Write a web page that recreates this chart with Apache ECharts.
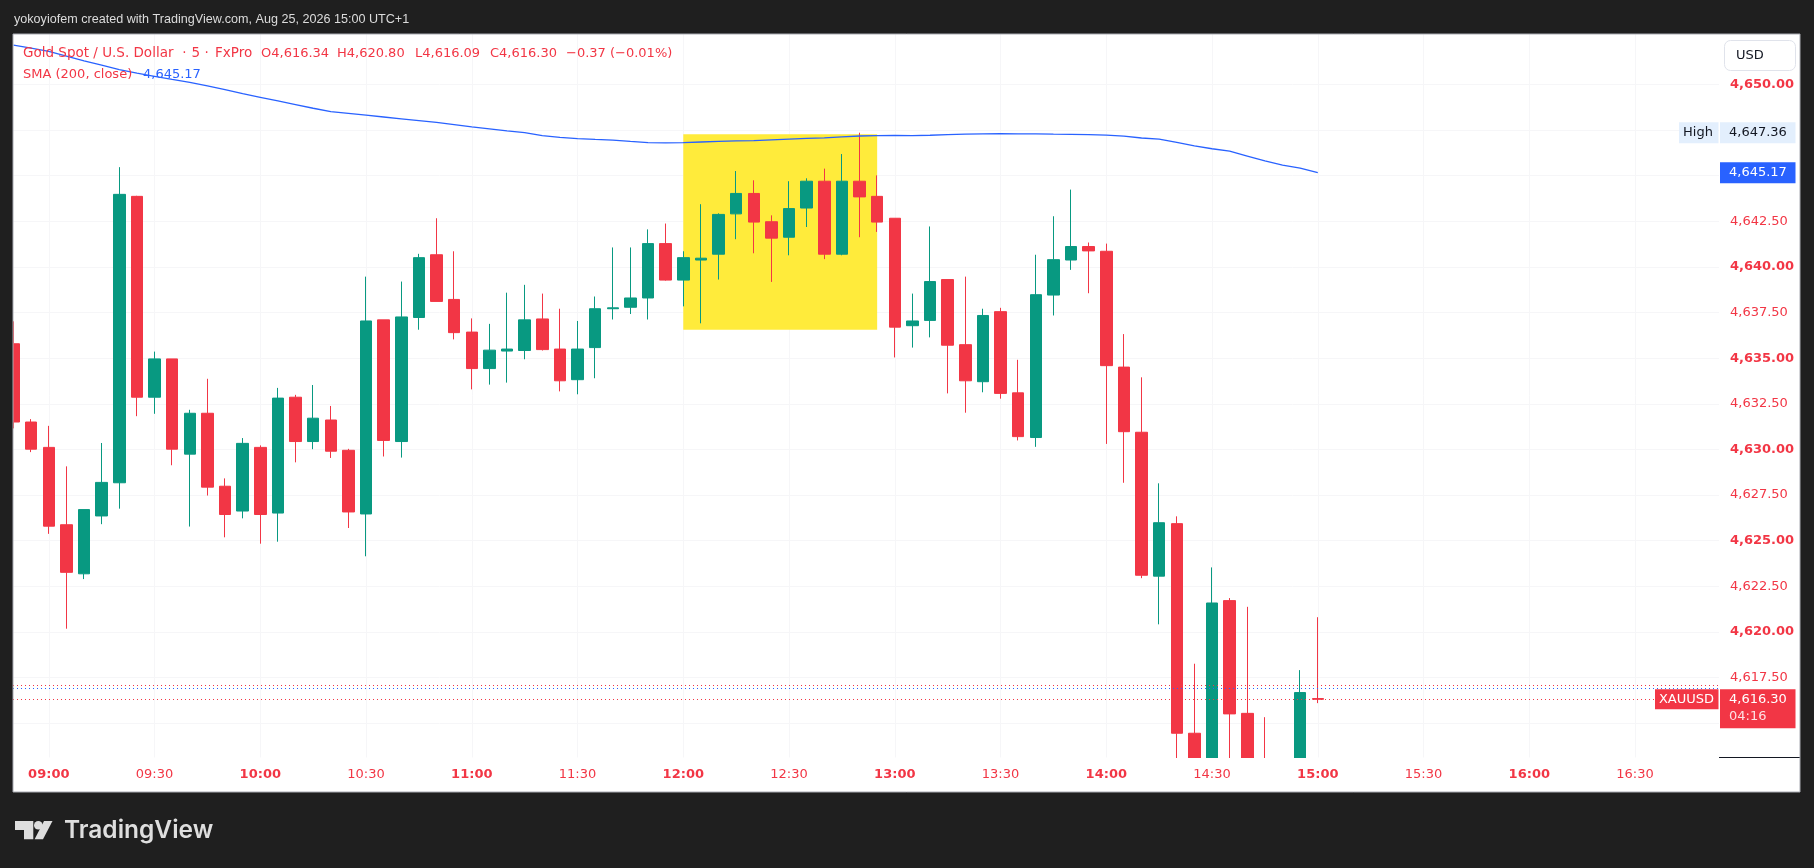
<!DOCTYPE html>
<html><head><meta charset="utf-8">
<script src="https://cdn.jsdelivr.net/npm/echarts@6/dist/echarts.min.js"></script>
<style>html,body{margin:0;padding:0;background:#1f1f1f}#c{width:1814px;height:868px}</style>
</head><body><div id="c"></div>
<script>
const times = ['08:50','08:55','09:00','09:05','09:10','09:15','09:20','09:25','09:30','09:35',
'09:40','09:45','09:50','09:55','10:00','10:05','10:10','10:15','10:20','10:25',
'10:30','10:35','10:40','10:45','10:50','10:55','11:00','11:05','11:10','11:15',
'11:20','11:25','11:30','11:35','11:40','11:45','11:50','11:55','12:00','12:05',
'12:10','12:15','12:20','12:25','12:30','12:35','12:40','12:45','12:50','12:55',
'13:00','13:05','13:10','13:15','13:20','13:25','13:30','13:35','13:40','13:45',
'13:50','13:55','14:00','14:05','14:10','14:15','14:20','14:25','14:30','14:35',
'14:40','14:45','14:50','14:55','15:00'];
const opens = [4635.79,4631.50,4630.11,4625.87,4623.18,4626.35,4628.17,4643.87,4632.86,4634.96,
4629.74,4631.98,4627.98,4626.62,4630.11,4626.51,4632.86,4630.43,4631.61,4629.95,
4626.46,4637.10,4630.43,4637.23,4640.67,4638.22,4636.43,4634.43,4635.39,4635.42,
4637.15,4635.50,4633.82,4635.58,4637.71,4637.79,4638.30,4641.28,4639.28,4640.38,
4640.70,4642.91,4644.03,4642.48,4641.63,4643.23,4644.70,4640.70,4644.70,4643.87,
4642.67,4636.78,4637.07,4639.31,4635.74,4633.71,4637.55,4633.10,4630.65,4638.46,
4640.38,4641.12,4640.86,4634.51,4630.94,4623.05,4625.93,4614.44,4612.40,4621.71,
4615.53,4612.60,4612.20,4612.50,4616.34];
const highs = [4637.02,4631.66,4631.29,4629.07,4626.70,4630.35,4645.47,4643.90,4635.36,4634.96,
4632.17,4633.87,4628.41,4630.62,4630.22,4633.37,4632.99,4633.53,4632.38,4630.03,
4639.47,4637.10,4639.20,4640.72,4642.67,4640.86,4637.18,4636.88,4638.59,4639.02,
4638.54,4637.71,4637.04,4638.38,4641.07,4641.07,4642.06,4642.38,4640.86,4643.44,
4642.94,4645.26,4644.75,4642.83,4644.70,4644.86,4645.39,4646.19,4647.36,4645.02,
4642.67,4638.54,4642.22,4639.31,4639.47,4637.71,4637.76,4634.91,4640.67,4642.78,
4644.24,4641.34,4641.28,4636.32,4633.95,4628.14,4626.33,4618.25,4623.53,4621.85,
4621.37,4615.32,4612.90,4617.90,4620.80];
const lows = [4631.15,4629.85,4625.37,4620.17,4622.89,4625.90,4626.75,4631.82,4631.95,4629.13,
4625.77,4627.47,4625.18,4626.22,4624.83,4624.94,4629.29,4630.01,4629.53,4625.69,
4624.14,4629.61,4629.55,4636.56,4638.11,4636.03,4633.29,4633.55,4633.66,4634.94,
4635.42,4633.18,4633.02,4633.90,4637.12,4637.42,4637.12,4639.25,4637.84,4636.91,
4639.31,4641.52,4640.75,4639.18,4640.64,4642.19,4640.43,4640.64,4641.63,4641.92,
4635.04,4635.58,4636.14,4633.07,4632.01,4633.13,4632.78,4630.49,4630.14,4637.34,
4639.84,4638.56,4630.30,4628.17,4622.94,4620.41,4612.30,4611.60,4611.90,4612.50,
4611.80,4611.50,4610.90,4612.10,4616.09];
const closes = [4631.50,4630.01,4625.79,4623.26,4626.70,4628.19,4643.98,4632.86,4634.96,4630.01,
4631.98,4627.93,4626.43,4630.33,4626.43,4632.81,4630.43,4631.71,4629.90,4626.57,
4637.04,4630.49,4637.26,4640.51,4638.11,4636.40,4634.43,4635.44,4635.50,4637.10,
4635.47,4633.76,4635.50,4637.71,4637.76,4638.30,4641.28,4639.28,4640.51,4640.48,
4642.88,4644.03,4642.46,4641.58,4643.20,4644.70,4640.70,4644.70,4643.84,4642.46,
4636.70,4637.04,4639.20,4635.71,4633.76,4637.34,4633.07,4630.70,4638.48,4640.40,
4641.12,4640.88,4634.59,4630.97,4623.10,4625.98,4614.44,4612.40,4621.58,4615.50,
4612.60,4612.20,4612.50,4616.67,4616.30];
const sma200 = [4652.16,4652.00,4651.82,4651.56,4651.30,4651.06,4650.82,4650.62,4650.45,4650.28,
4650.12,4649.93,4649.72,4649.50,4649.30,4649.10,4648.90,4648.70,4648.51,4648.42,
4648.32,4648.22,4648.12,4648.02,4647.92,4647.80,4647.68,4647.57,4647.46,4647.36,
4647.20,4647.10,4647.04,4646.99,4646.95,4646.88,4646.82,4646.80,4646.82,4646.85,
4646.88,4646.91,4646.93,4646.97,4647.01,4647.05,4647.08,4647.13,4647.18,4647.20,
4647.21,4647.20,4647.22,4647.25,4647.28,4647.30,4647.31,4647.30,4647.30,4647.28,
4647.27,4647.25,4647.23,4647.17,4647.07,4647.01,4646.83,4646.64,4646.48,4646.35,
4646.08,4645.81,4645.58,4645.42,4645.17];
const timeTicks = ['09:00','09:30','10:00','10:30','11:00','11:30','12:00','12:30','13:00','13:30','14:00','14:30','15:00','15:30','16:00','16:30'];
const priceTicks = [4615,4617.5,4620,4622.5,4625,4627.5,4630,4632.5,4635,4637.5,4640,4642.5,4645,4647.5,4650];
const highlightStart = '12:00', highlightEnd = '12:55';
const highlightTop = 4647.28, highlightBottom = 4636.56;
const askLines = [4617.06, 4616.90];
const countdown = '04:16';

const RED = '#f23645', GREEN = '#089981', BLUE = '#2962ff', DARK = '#1f1f1f', INK = '#131722';
const FONT = '"DejaVu Sans", Verdana, sans-serif';
const toMin = t => { const p = t.split(':').map(Number); return p[0] * 60 + p[1]; };
const t0 = toMin(times[0]);
const slot = t => (toMin(t) - t0) / 5;
const fmt = v => v.toLocaleString('en-US', {minimumFractionDigits: 2, maximumFractionDigits: 2});
const candles = times.map((t, i) => [slot(t), opens[i], closes[i], lows[i], highs[i]]);
const smaData = times.map((t, i) => [slot(t), sma200[i]]);

const GL = 13, GR = 1719, GT = 34, GB = 757.5;
const pxPerSlot = 17.625;
const xMin = -0.03, xMax = xMin + (GR - GL) / pxPerSlot;
const yMin = 4613.11, yMax = 4652.77;

const chart = echarts.init(document.getElementById('c'), null, {renderer: 'canvas', width: 1814, height: 868});
const labelRich = {
  b: {fontFamily: FONT, fontSize: 13, fontWeight: 'bold', color: RED},
  n: {fontFamily: FONT, fontSize: 13, fontWeight: 'normal', color: RED}
};
chart.setOption({
  backgroundColor: DARK,
  animation: false,
  grid: {left: GL, right: 1814 - GR, top: GT, bottom: 868 - GB},
  xAxis: {
    type: 'value', min: xMin, max: xMax, z: 6,
    axisLine: {show: false}, axisTick: {show: false}, splitLine: {show: false},
    axisLabel: {
      customValues: timeTicks.map(slot), margin: 11,
      formatter: v => { const t = timeTicks.find(s => Math.abs(slot(s) - v) < 1e-6) || ''; return t.endsWith(':00') ? '{b|' + t + '}' : '{n|' + t + '}'; },
      rich: labelRich
    }
  },
  yAxis: {
    type: 'value', position: 'right', min: yMin, max: yMax,
    axisLine: {show: false}, axisTick: {show: false}, splitLine: {show: false},
    axisLabel: {
      customValues: priceTicks, margin: 11, align: 'left',
      formatter: v => (Math.abs(v - Math.round(v)) < 1e-6 ? '{b|' : '{n|') + fmt(v) + '}',
      rich: labelRich
    }
  },
  series: [
    {
      type: 'line', data: [], silent: true, z: 0,
      markLine: {
        z: 0, silent: true, symbol: 'none', label: {show: false},
        lineStyle: {color: '#f6f6f8', width: 1, type: 'solid'},
        data: timeTicks.map(t => ({xAxis: slot(t)})).concat(priceTicks.map(p => ({yAxis: p})))
      }
    },
    {
      type: 'line', data: [], silent: true, z: 1,
      markArea: {
        z: 1, silent: true, itemStyle: {color: '#ffeb3b'},
        data: [[{coord: [slot(highlightStart), highlightTop]}, {coord: [slot(highlightEnd), highlightBottom]}]]
      }
    },
    {
      type: 'candlestick', z: 2, barWidth: 12, clip: true,
      dimensions: ['x', 'open', 'close', 'low', 'high'],
      encode: {x: 'x', y: ['open', 'close', 'low', 'high']},
      data: candles,
      itemStyle: {color: GREEN, color0: RED, borderColor: GREEN, borderColor0: RED, borderColorDoji: RED, borderWidth: 1},
      markLine: {
        silent: true, symbol: 'none', label: {show: false},
        data: [
          {yAxis: askLines[0], lineStyle: {color: RED, type: [1, 3], width: 1}},
          {yAxis: askLines[1], lineStyle: {color: BLUE, type: [1, 3], width: 1}},
          {yAxis: closes[closes.length - 1], lineStyle: {color: RED, type: [1, 3], width: 1}}
        ]
      }
    },
    {
      type: 'line', z: 3, data: smaData, showSymbol: false, symbol: 'none', silent: true,
      lineStyle: {color: BLUE, width: 1.3}
    }
  ]
});

const py = p => chart.convertToPixel({xAxisIndex: 0, yAxisIndex: 0}, [0, p])[1];
const n = closes.length - 1;
const chg = closes[n] - closes[n - 1];
const sign = chg < 0 ? '\u2212' : '+';
const pct = Math.abs(chg / closes[n - 1] * 100).toFixed(2);
const hiVal = Math.max(...highs);
const txt = (x, y, text, fill, font, align, extra) => Object.assign({type: 'text', z: 20, style: {x, y, text, fill, font, textAlign: align || 'left', textVerticalAlign: 'middle'}}, extra || {});
const box = (x, y, w, h, fill, stroke, r) => ({type: 'rect', z: 19, shape: {x, y, width: w, height: h, r: r || 0}, style: {fill, stroke: stroke || null, lineWidth: 1}});
const yHigh = py(hiVal), ySma = py(sma200[n]), yLast = py(closes[n]);

chart.setOption({
  graphic: [
    {type: 'rect', z: -1, shape: {x: GL, y: GT, width: 1800 - GL, height: 792 - GT}, style: {fill: '#ffffff'}},
    {type: 'rect', z: 5, shape: {x: GL + 0.5, y: GB + 0.5, width: GR - GL - 0.5, height: 792 - GB - 1}, style: {fill: '#ffffff'}},
    {type: 'rect', z: 5, shape: {x: 0, y: GT, width: GL, height: 792 - GT}, style: {fill: DARK}},
    {type: 'rect', z: 21, shape: {x: GL, y: GT, width: 1800 - GL, height: 792 - GT}, style: {fill: null, stroke: '#a9abb2', lineWidth: 1}},
    txt(14, 20, 'yokoyiofem created with TradingView.com, Aug 25, 2026 15:00 UTC+1', '#dcdcdc', '12.6px "Liberation Sans", Arial, sans-serif'),
    txt(23, 53.5, 'Gold Spot / U.S. Dollar', RED, '13.5px ' + FONT),
    txt(184.5, 53.5, '\u00b7', RED, '13.5px ' + FONT, 'center'),
    txt(195.7, 53.5, '5', RED, '13.5px ' + FONT, 'center'),
    txt(206.7, 53.5, '\u00b7', RED, '13.5px ' + FONT, 'center'),
    txt(215, 53.5, 'FxPro', RED, '13.5px ' + FONT),
    txt(261, 53.5, 'O' + fmt(opens[n]), RED, '13px ' + FONT),
    txt(337, 53.5, 'H' + fmt(highs[n]), RED, '13px ' + FONT),
    txt(415, 53.5, 'L' + fmt(lows[n]), RED, '13px ' + FONT),
    txt(490, 53.5, 'C' + fmt(closes[n]), RED, '13px ' + FONT),
    txt(566, 53.5, sign + fmt(Math.abs(chg)) + ' (' + sign + pct + '%)', RED, '13px ' + FONT),
    txt(23, 75, 'SMA (200, close)', RED, '13px ' + FONT),
    txt(143, 75, fmt(sma200[n]), BLUE, '13px ' + FONT),
    box(1724.5, 40.5, 71, 30, '#ffffff', '#e0e3eb', 6),
    txt(1736, 56, 'USD', INK, '13px ' + FONT),
    box(1679, yHigh - 10.5, 39.5, 21, '#e3effd'),
    txt(1683, yHigh, 'High', INK, '13px ' + FONT),
    box(1720, yHigh - 10.5, 75.5, 21, '#e3effd'),
    txt(1729, yHigh, fmt(hiVal), INK, '13px ' + FONT),
    box(1720, ySma - 10.5, 75.5, 21, BLUE),
    txt(1729, ySma, fmt(sma200[n]), '#ffffff', '13px ' + FONT),
    box(1655, yLast - 10, 63.5, 20, RED),
    txt(1686.5, yLast, 'XAUUSD', '#ffffff', '13px ' + FONT, 'center'),
    box(1720, yLast - 10, 75.5, 39, RED),
    txt(1729, yLast, fmt(closes[n]), '#ffffff', '13px ' + FONT),
    txt(1729, yLast + 17.5, countdown, 'rgba(255,255,255,0.85)', '13px ' + FONT),
    {type: 'line', z: 20, shape: {x1: GR, y1: GB, x2: 1800, y2: GB}, style: {stroke: INK, lineWidth: 1}},
    {type: 'polygon', z: 20, shape: {points: [[15, 821], [33.3, 821], [33.3, 839.3], [24, 839.3], [24, 830], [15, 830]]}, style: {fill: '#dedede'}},
    {type: 'circle', z: 20, shape: {cx: 38.3, cy: 825.3, r: 4.3}, style: {fill: '#dedede'}},
    {type: 'polygon', z: 20, shape: {points: [[44, 821], [52.5, 821], [43, 839.3], [34.6, 839.3]]}, style: {fill: '#dedede'}},
    txt(64, 831, 'TradingView', '#dedede', '600 24.5px Inter, "Noto Sans", sans-serif')
  ]
});
</script></body></html>
